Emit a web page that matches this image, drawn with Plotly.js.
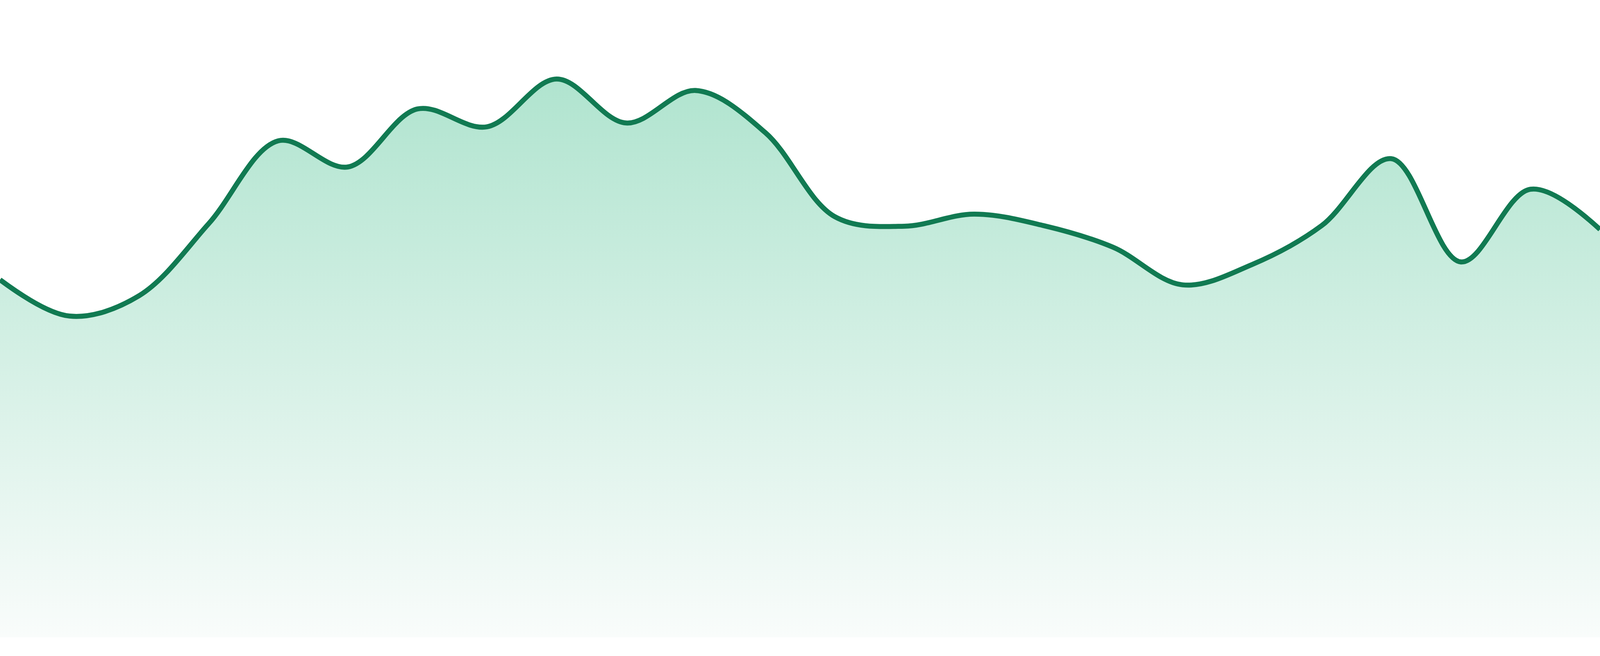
<!DOCTYPE html>
<html>
<head>
<meta charset="utf-8">
<script src="https://cdn.plot.ly/plotly-3.0.1.min.js"></script>
<style>html,body{margin:0;padding:0;background:#fff;overflow:hidden;}#chart{width:100vw;height:100vh;}</style>
</head>
<body>
<div id="chart"></div>
<script>
// Data
const points = [0,1,2,3,4,5,6,7,8,9,10,11,12,13,14,15,16,17,18,19,20,21,22,23];
const values = [56.1,50.4,53.6,64.9,77.9,73.8,82.9,80.1,87.6,80.7,85.8,79.2,66.0,64.5,66.4,64.6,61.2,55.3,58.5,64.6,75.1,58.9,70.3,64.0];

const lineColor = '#117a52';
const fillTop = '#b0e4cf';
const fillBottom = '#f9fcfb';

const W = window.innerWidth || 4800;
const H = window.innerHeight || 1680;
const k = W / 4800;

const trace = {
  x: points,
  y: values,
  type: 'scatter',
  mode: 'lines',
  line: {color: lineColor, width: 15 * k, shape: 'spline', smoothing: 1},
  fill: 'tozeroy',
  fillcolor: 'rgba(176,228,207,0.6)',
  fillgradient: {
    type: 'vertical',
    colorscale: [[0, fillBottom], [1, fillTop]],
    start: 0,
    stop: Math.max.apply(null, values)
  },
  hoverinfo: 'skip'
};

const layout = {
  width: W,
  height: H,
  margin: {l: 0, r: 0, t: 0, b: Math.round(H * 48 / 1680), pad: 0},
  paper_bgcolor: '#ffffff',
  plot_bgcolor: '#ffffff',
  showlegend: false,
  xaxis: {visible: false, range: [0, points.length - 1], fixedrange: true},
  yaxis: {visible: false, range: [0, 100], fixedrange: true}
};

Plotly.newPlot('chart', [trace], layout, {displayModeBar: false, staticPlot: true});
</script>
</body>
</html>
